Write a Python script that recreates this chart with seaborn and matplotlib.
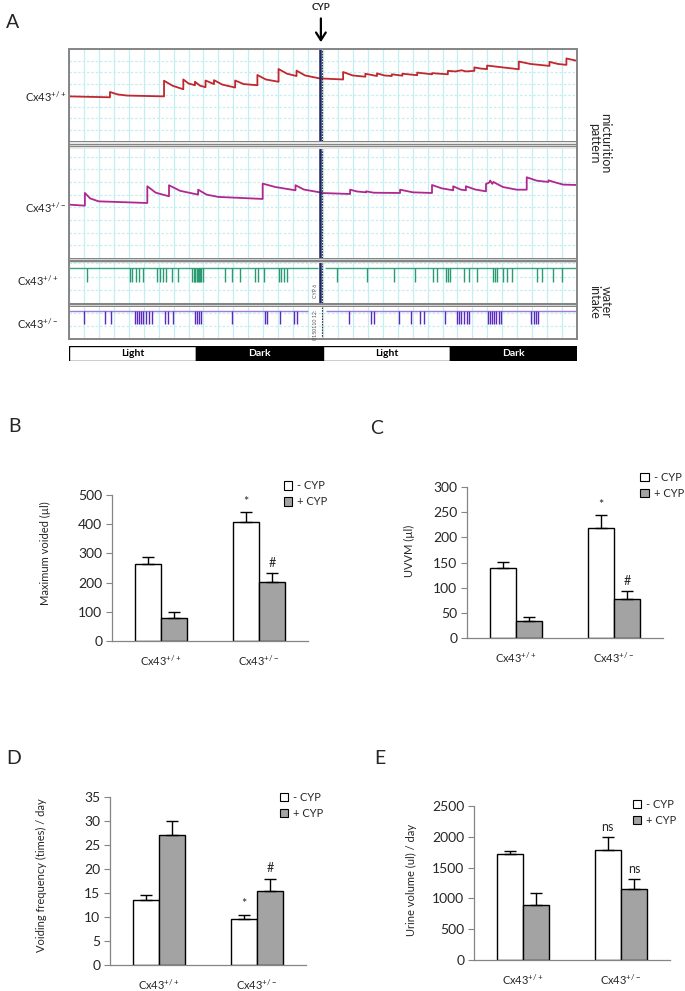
import numpy as np
import pandas as pd
import seaborn as sns
import matplotlib.pyplot as plt
from matplotlib.patches import Patch

sns.set_style('white')
plt.rcParams['font.family'] = ['Lato', 'DejaVu Sans']
plt.rcParams['mathtext.default'] = 'regular'

# ---------------- data: panel A (cystometry / water intake traces, hours) ----------------
cyp_time = 23.8
wt_trace_t = [0, 3.87, 3.87, 4.6, 5.5, 8.98, 8.98, 9.8, 10.8, 10.8, 11.3, 11.9, 11.9, 12.4, 12.9,
              12.9, 13.7, 13.7, 14.5, 15.7, 15.7, 16.5, 17.8, 17.8, 18.6, 19.8, 19.8, 20.6, 21.5,
              21.5, 22.3, 23.7,
              23.8, 25.9, 25.9, 26.8, 28.0, 28.0, 29.1, 29.1, 29.8, 30.5, 30.5, 31.5, 31.5, 32.9,
              32.9, 34.3, 34.3, 35.8, 35.8, 36.5, 37.1, 37.5, 38.3, 38.3, 38.9, 39.5, 39.5, 41.0,
              42.5, 42.5, 43.6, 45.4, 45.4, 46.2, 47.0, 47.0, 48.0]
wt_trace_v = [3.88, 3.8, 4.26, 4.05, 3.95, 3.88, 5.24, 4.8, 4.5, 5.35, 5.0, 4.85, 5.15, 4.8, 4.68,
              5.26, 4.95, 5.29, 4.9, 4.65, 5.26, 4.95, 4.85, 5.74, 5.35, 5.15, 6.26, 5.85, 5.65,
              6.12, 5.7, 5.44,
              5.44, 5.35, 6.0, 5.7, 5.59, 5.85, 5.65, 5.88, 5.7, 5.65, 5.8, 5.68, 5.85, 5.72,
              5.95, 5.8, 5.9, 5.8, 6.1, 6.05, 6.15, 6.05, 6.1, 6.4, 6.3, 6.25, 6.56, 6.4,
              6.24, 6.91, 6.7, 6.53, 6.88, 6.7, 6.62, 7.18, 6.97]

het_trace_t = [0, 1.5, 1.5, 2.0, 2.8, 7.4, 7.4, 8.2, 9.45, 9.45, 10.5, 12.2, 12.2, 13.0, 14.1,
               18.3, 18.3, 19.5, 21.4, 21.4, 22.2, 23.7,
               23.8, 26.56, 26.56, 27.2, 28.07, 28.07, 28.8, 31.28, 31.28, 32.5, 34.3, 34.3, 35.2,
               36.3, 36.3, 37.0, 37.5, 37.5, 38.4, 39.4, 39.4, 39.7, 39.8, 40.0, 40.1, 41.0, 42.3,
               43.25, 43.25, 44.2, 45.3, 45.3, 46.0, 46.7, 48.0]
het_trace_v = [4.21, 4.13, 5.13, 4.7, 4.47, 4.34, 5.66, 5.15, 4.87, 5.74, 5.3, 5.0, 5.39, 5.0, 4.82,
               4.66, 5.87, 5.6, 5.34, 5.74, 5.4, 5.18,
               5.13, 5.05, 5.39, 5.25, 5.18, 5.26, 5.15, 5.13, 5.39, 5.18, 5.13, 5.76, 5.5,
               5.34, 5.66, 5.4, 5.34, 5.66, 5.4, 5.26, 5.84, 5.95, 6.11, 5.85, 6.0, 5.6, 5.39,
               5.39, 6.37, 6.1, 6.0, 6.13, 5.95, 5.79, 5.76]

wt_drinks = [1.74, 5.75, 5.96, 6.29, 6.62, 7.03, 8.27, 8.56, 8.85, 9.18, 9.72, 10.34,
             11.66, 11.8, 11.87, 11.95, 12.07, 12.17, 12.28, 12.38, 12.49, 12.69, 14.76, 15.37,
             16.12, 17.57, 17.86, 18.4, 19.8, 20.05, 20.34, 20.62,
             25.3, 28.2, 30.67, 32.65, 34.39, 34.8, 35.63, 35.83, 36.04, 37.28, 37.82, 38.52,
             40.05, 40.26, 40.46, 41.0, 41.4, 41.83, 44.2, 44.7, 45.75, 46.6]
het_drinks = [1.45, 3.4, 3.93, 6.2, 6.41, 6.62, 6.82, 7.03, 7.24, 7.53, 7.86, 9.1, 9.39, 9.8,
              11.87, 12.07, 12.28, 12.49, 15.37, 18.48, 18.69, 19.92, 21.25, 21.57,
              26.5, 28.5, 28.8, 31.2, 32.3, 33.2, 33.5, 35.5, 36.66, 36.86, 37.07, 37.28, 37.6,
              37.8, 39.55, 39.76, 39.96, 40.17, 40.38, 40.59, 40.8, 43.69, 43.9, 44.1, 44.3]

phases = ['Light', 'Dark', 'Light', 'Dark']
phase_start = [0, 12, 24, 36]
phase_len = [12, 12, 12, 12]

# ---------------- data: panels B-E (mean, SEM) ----------------
genotypes = ['Cx43$^{+/+}$', 'Cx43$^{+/-}$']
treatments = ['- CYP', '+ CYP']

b_minus, b_minus_err, b_minus_mark = [265, 407], [22, 35], ['', '*']
b_plus, b_plus_err, b_plus_mark = [80, 203], [20, 29], ['', '#']

c_minus, c_minus_err, c_minus_mark = [140, 218], [11, 26], ['', '*']
c_plus, c_plus_err, c_plus_mark = [33, 78], [9, 16], ['', '#']

d_minus, d_minus_err, d_minus_mark = [13.5, 9.5], [1.1, 1.0], ['', '*']
d_plus, d_plus_err, d_plus_mark = [27, 15.5], [3.0, 2.5], ['', '#']

e_minus, e_minus_err, e_minus_mark = [1720, 1780], [50, 220], ['', 'ns']
e_plus, e_plus_err, e_plus_mark = [900, 1150], [180, 170], ['', 'ns']

W, H = 685, 991
fig = plt.figure(figsize=(W / 100, H / 100), dpi=100)


def rect(x0, y0, x1, y1):
    return [x0 / W, 1 - y1 / H, (x1 - x0) / W, (y1 - y0) / H]


GRID = '#c4eef2'
FRAME = '#858585'
X0, X1 = 69, 577


def trace_panel(y0, y1, ytop, ystep):
    ax = fig.add_axes(rect(X0, y0, X1, y1))
    ax.set_xlim(0, 48)
    ax.set_ylim(0, ytop)
    ax.set_xticks(np.arange(0, 48.01, 48 / 34))
    ax.set_yticks(np.arange(0, ytop + 0.01, ystep))
    ax.tick_params(length=0, labelbottom=False, labelleft=False)
    ax.grid(axis='x', color=GRID, lw=0.9)
    ax.grid(axis='y', color=GRID, lw=0.9, ls=(0, (2, 1.5)))
    for s in ['top', 'bottom']:
        ax.spines[s].set_visible(False)
    for s in ['left', 'right']:
        ax.spines[s].set_color(FRAME)
        ax.spines[s].set_linewidth(1.4)
    return ax


def separator(y0, y1):
    ax = fig.add_axes(rect(X0, y0, X1, y1))
    ax.set_xlim(0, 1)
    ax.set_ylim(0, 1)
    for yy in [0, 0.33, 0.67, 1]:
        ax.axhline(yy, color=FRAME, lw=1.0)
    ax.set_axis_off()
    ax.plot([0, 0], [0, 1], color=FRAME, lw=1.4, clip_on=False)
    ax.plot([1, 1], [0, 1], color=FRAME, lw=1.4, clip_on=False)


ax1 = trace_panel(49, 141, 8, 1)
ax1.spines['top'].set_visible(True)
ax1.spines['top'].set_color(FRAME)
ax1.spines['top'].set_linewidth(1.4)
sns.lineplot(x=wt_trace_t, y=wt_trace_v, sort=False, estimator=None, color='#c1272d', lw=1.3, ax=ax1)
separator(141, 149)
ax2 = trace_panel(149, 258, 8.6, 1)
sns.lineplot(x=het_trace_t, y=het_trace_v, sort=False, estimator=None, color='#b0288f', lw=1.3, ax=ax2)
separator(258, 263)
ax3 = trace_panel(263, 303, 1, 0.33)
ax3.hlines(0.88, 0, 23.5, color='#38a57f', lw=1.0)
ax3.hlines(0.88, 24.2, 48, color='#38a57f', lw=1.0)
ax3.vlines(wt_drinks, 0.53, 0.88, color='#2a9a72', lw=1.0)
separator(303, 307)
ax4 = trace_panel(307, 339, 1, 0.4)
ax4.spines['bottom'].set_visible(True)
ax4.spines['bottom'].set_color(FRAME)
ax4.spines['bottom'].set_linewidth(1.4)
ax4.hlines(0.88, 0, 22.6, color='#a27ad8', lw=1.0)
ax4.hlines(0.88, 24.3, 48, color='#a27ad8', lw=1.0)
ax4.vlines(het_drinks, 0.47, 0.88, color='#5a2bbf', lw=1.0)

for ax in [ax1, ax2, ax3]:
    ax.axvline(cyp_time - 0.12, color='#1f2466', lw=1.8)
for ax in [ax1, ax2, ax3, ax4]:
    ax.axvline(cyp_time + 0.12, color='#333333', lw=0.8, ls=(0, (1.5, 1)))
ax3.text(cyp_time - 0.55, 0.3, 'CYP 6', rotation=90, fontsize=3.8, color='#555555', ha='center', va='center')
ax4.text(cyp_time - 0.55, 0.45, '0150110 12:', rotation=90, fontsize=3.8, color='#555555', ha='center', va='center')

# CYP arrow
ax1.annotate('', xy=(cyp_time, 8.35), xytext=(cyp_time, 10.9), annotation_clip=False,
             arrowprops=dict(arrowstyle='->,head_length=0.55,head_width=0.35', lw=1.6, color='black'))
ax1.text(cyp_time, 11.6, 'CYP', ha='center', va='center', fontsize=7, fontweight='bold')

# light / dark bar
axl = fig.add_axes(rect(X0, 346, X1, 361))
axl.barh([0] * 4, phase_len, left=phase_start, height=1,
         color=['white' if p == 'Light' else 'black' for p in phases], edgecolor='black', lw=1)
for p, s, l in zip(phases, phase_start, phase_len):
    axl.text(s + l / 2, 0, p, ha='center', va='center', fontsize=7.5, fontweight='bold',
             color='black' if p == 'Light' else 'white')
axl.set_xlim(0, 48)
axl.set_ylim(-0.5, 0.5)
axl.set_axis_off()

# side labels
fig.text(46 / W, 1 - 97 / H, 'Cx43$^{+/+}$', ha='center', va='center', fontsize=8)
fig.text(46 / W, 1 - 208 / H, 'Cx43$^{+/-}$', ha='center', va='center', fontsize=8)
fig.text(38 / W, 1 - 281 / H, 'Cx43$^{+/+}$', ha='center', va='center', fontsize=8)
fig.text(38 / W, 1 - 324 / H, 'Cx43$^{+/-}$', ha='center', va='center', fontsize=8)
fig.text(600 / W, 1 - 143 / H, 'micturition\npattern', rotation=-90, ha='center', va='center',
         fontsize=9, linespacing=0.9)
fig.text(600 / W, 1 - 302 / H, 'water\nintake', rotation=-90, ha='center', va='center',
         fontsize=9, linespacing=0.9)


# ---------------- bar panels ----------------
PAL = {'- CYP': 'white', '+ CYP': '#a3a3a3'}


def bar_panel(box, minus, minus_err, minus_mark, plus, plus_err, plus_mark,
              ymax, ystep, ylabel, ylab_xy, leg_xy):
    ax = fig.add_axes(rect(*box))
    df = pd.DataFrame({
        'genotype': genotypes * 2,
        'treatment': [treatments[0]] * 2 + [treatments[1]] * 2,
        'value': minus + plus,
    })
    sns.barplot(data=df, x='genotype', y='value', hue='treatment', hue_order=treatments,
                palette=PAL, edgecolor='black', linewidth=1, width=0.54, gap=0,
                errorbar=None, legend=False, ax=ax)
    for cont, errs, marks in zip(ax.containers, [minus_err, plus_err], [minus_mark, plus_mark]):
        for bar, e, m in zip(cont, errs, marks):
            xc = bar.get_x() + bar.get_width() / 2
            top = bar.get_height()
            ax.errorbar([xc], [top], yerr=[[0], [e]], fmt='none', ecolor='black',
                        elinewidth=1, capsize=4, capthick=1)
            if m:
                ax.annotate(m, (xc, top + e), xytext=(0, 3), textcoords='offset points',
                            ha='center', va='bottom', fontsize=9)
    ax.set_xlim(-0.5, 1.5)
    ax.set_ylim(0, ymax)
    ax.set_yticks(np.arange(0, ymax + 0.01, ystep))
    ax.set_xticks([0, 1])
    ax.set_xticklabels(genotypes, fontsize=8)
    ax.set_xticks([-0.5, 0.5, 1.5], minor=True)
    ax.tick_params(axis='x', which='major', length=0, pad=9)
    ax.tick_params(axis='x', which='minor', length=4, color=FRAME, width=0.8)
    ax.tick_params(axis='y', length=4, color=FRAME, width=0.8, labelsize=10, pad=3, left=True)
    ax.set_xlabel('')
    ax.set_ylabel(ylabel, fontsize=8)
    ax.yaxis.set_label_coords(*ylab_xy)
    sns.despine(ax=ax)
    for s in ['left', 'bottom']:
        ax.spines[s].set_color(FRAME)
        ax.spines[s].set_linewidth(0.9)
    handles = [Patch(facecolor=PAL[t], edgecolor='black', lw=0.8) for t in treatments]
    ax.legend(handles, treatments, loc='upper left', bbox_to_anchor=leg_xy, frameon=False,
              handlelength=0.75, handleheight=0.75, handletextpad=0.45, labelspacing=0.45,
              fontsize=8, borderaxespad=0, borderpad=0)
    return ax


bar_panel((112, 495, 308, 641), b_minus, b_minus_err, b_minus_mark, b_plus, b_plus_err, b_plus_mark,
          500, 100, 'Maximum voided (µl)', (-0.31, 0.6), (0.875, 1.1))
bar_panel((467, 487, 663, 638), c_minus, c_minus_err, c_minus_mark, c_plus, c_plus_err, c_plus_mark,
          300, 50, 'UVVM (µl)', (-0.265, 0.58), (0.885, 1.1))
bar_panel((110, 797, 306, 965), d_minus, d_minus_err, d_minus_mark, d_plus, d_plus_err, d_plus_mark,
          35, 5, 'Voiding frequency (times) / day', (-0.32, 0.535), (0.865, 1.03))
bar_panel((474, 806, 670, 960), e_minus, e_minus_err, e_minus_mark, e_plus, e_plus_err, e_plus_mark,
          2500, 500, 'Urine volume (ul) / day', (-0.29, 0.52), (0.81, 1.045))

# panel letters
for letter, x, y in [('A', 13, 22), ('B', 14, 427), ('C', 377, 428), ('D', 14, 758), ('E', 380, 759)]:
    fig.text(x / W, 1 - y / H, letter, ha='center', va='center', fontsize=14)

fig.savefig('out.png', dpi=100, facecolor='white')
